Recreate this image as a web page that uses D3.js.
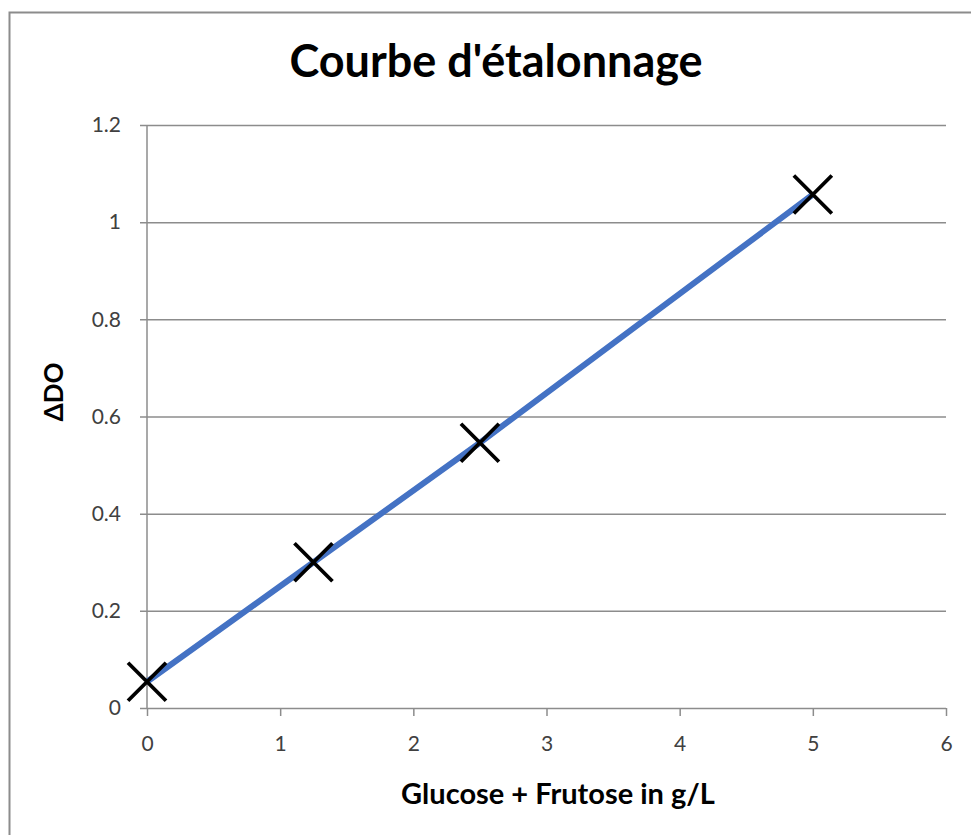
<!DOCTYPE html>
<html>
<head>
<meta charset="utf-8">
<script src="https://cdn.jsdelivr.net/npm/d3@7"></script>
<style>
  body { margin: 0; background: #fff; }
  svg text { font-family: Lato, "Open Sans", sans-serif; }
</style>
</head>
<body>
<div id="chart"></div>
<script>
// data
var conc = [0, 1.25, 2.5, 5];
var delta_do = [0.054, 0.3, 0.546, 1.057];
var x_ticks = [0, 1, 2, 3, 4, 5, 6];
var y_ticks = [0, 0.2, 0.4, 0.6, 0.8, 1, 1.2];
var chart_title = "Courbe d'étalonnage";
var x_title = "Glucose + Frutose in g/L";
var y_title = "ΔDO";

var width = 971, height = 835;
var margin = { left: 147, right: 25, top: 125, bottom: 127 };

var svg = d3.select("div#chart").append("svg")
   .attr("width", width).attr("height", height);

// outer frame (right / bottom edges run off the picture)
svg.append("rect").attr("x", 9.5).attr("y", 12.5)
   .attr("width", 1000).attr("height", 900)
   .attr("fill", "#fff").attr("stroke", "#8c8c8c").attr("stroke-width", 2);

var x = d3.scaleLinear().domain([0, 6]).range([margin.left, width - margin.right]);
var y = d3.scaleLinear().domain([0, 1.2]).range([height - margin.bottom, margin.top]);

function fmt(d) { return String(+d.toFixed(1)); }

// horizontal gridlines + y ticks
svg.append("g").attr("class", "y_axis")
   .attr("transform", "translate(" + margin.left + ",0)")
   .call(d3.axisLeft(y).tickValues(y_ticks)
      .tickSizeInner(-(x.range()[1] - margin.left))
      .tickFormat(fmt))
   .call(function(g) {
      g.select(".domain").remove();
      g.selectAll(".tick line").attr("stroke", "#8c8c8c").attr("stroke-width", 1.5)
         .attr("x1", -7);
      g.selectAll(".tick text").attr("x", -26).attr("fill", "#404040")
         .style("font-size", "21px");
   });

// y axis line
svg.append("line")
   .attr("x1", margin.left).attr("x2", margin.left)
   .attr("y1", y(1.2)).attr("y2", y(0))
   .attr("stroke", "#8c8c8c").attr("stroke-width", 1.5);

// x axis
svg.append("g").attr("class", "x_axis")
   .attr("transform", "translate(0," + y(0) + ")")
   .call(d3.axisBottom(x).tickValues(x_ticks).tickSize(8).tickSizeOuter(0)
      .tickFormat(fmt))
   .call(function(g) {
      g.select(".domain").remove();
      g.selectAll(".tick line").attr("stroke", "#8c8c8c").attr("stroke-width", 1.5);
      g.selectAll(".tick text").attr("y", 28).attr("fill", "#404040")
         .style("font-size", "21px");
   });

// series line
var pts = conc.map(function(c, i) { return [c, delta_do[i]]; });
svg.append("path").datum(pts)
   .attr("fill", "none").attr("stroke", "#4472c4").attr("stroke-width", 6)
   .attr("d", d3.line().x(function(d) { return x(d[0]); }).y(function(d) { return y(d[1]); }));

// x markers
var m = 19;
svg.append("g").selectAll("path.marker").data(pts).enter().append("path")
   .attr("class", "marker")
   .attr("d", function(d) {
      var cx = x(d[0]), cy = y(d[1]);
      return "M" + (cx - m) + "," + (cy - m) + "L" + (cx + m) + "," + (cy + m) +
         "M" + (cx - m) + "," + (cy + m) + "L" + (cx + m) + "," + (cy - m);
   })
   .attr("stroke", "#000").attr("stroke-width", 3.8).attr("fill", "none");

// titles
svg.append("text").attr("x", 496).attr("y", 77).attr("text-anchor", "middle")
   .style("font-size", "45px").style("font-weight", "bold").attr("fill", "#000")
   .text(chart_title);

svg.append("text").attr("x", 558).attr("y", 804).attr("text-anchor", "middle")
   .style("font-size", "29px").style("font-weight", "bold").attr("fill", "#000")
   .text(x_title);

svg.append("text").attr("transform", "translate(63,392) rotate(-90)")
   .attr("text-anchor", "middle")
   .style("font-size", "26px").style("font-weight", "bold").attr("fill", "#000")
   .text(y_title);
</script>
</body>
</html>
